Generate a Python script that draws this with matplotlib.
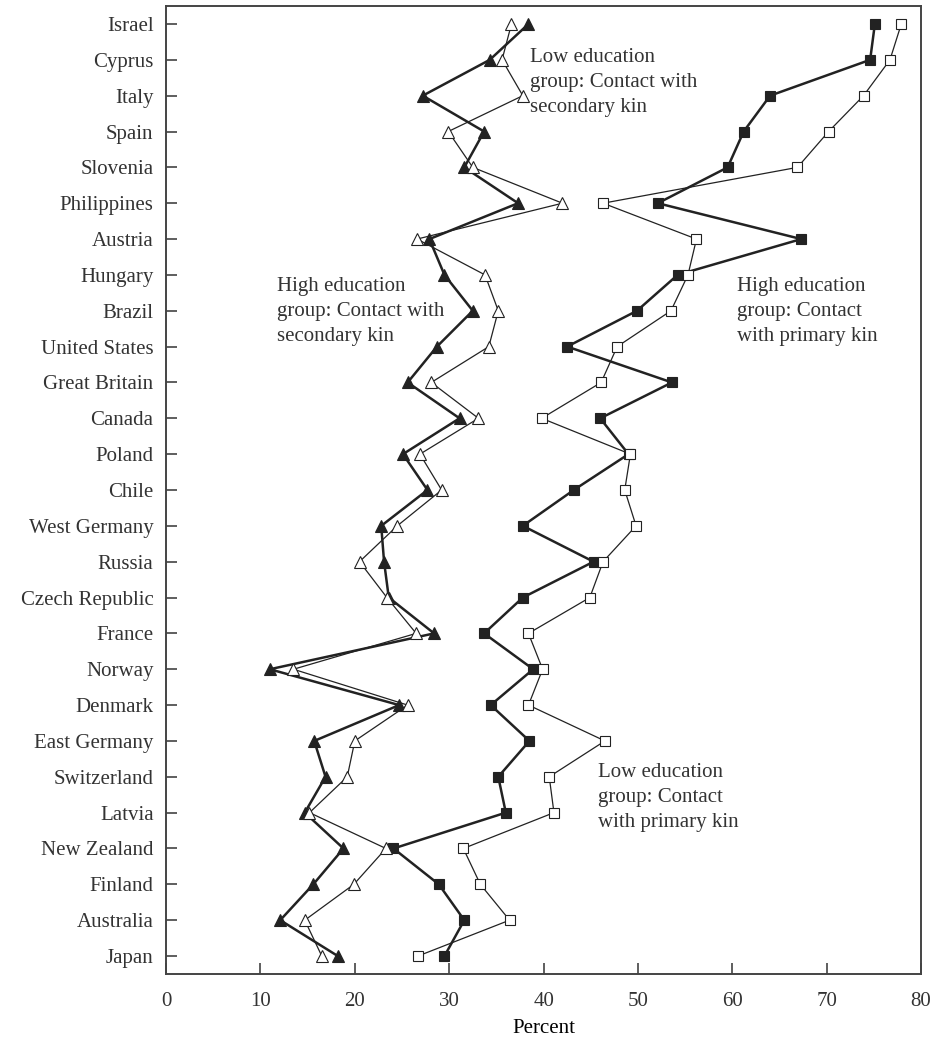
import numpy as np
import matplotlib
matplotlib.use("Agg")
from matplotlib import pyplot as plt

countries = ["Israel", "Cyprus", "Italy", "Spain", "Slovenia", "Philippines",
             "Austria", "Hungary", "Brazil", "United States", "Great Britain",
             "Canada", "Poland", "Chile", "West Germany", "Russia",
             "Czech Republic", "France", "Norway", "Denmark", "East Germany",
             "Switzerland", "Latvia", "New Zealand", "Finland", "Australia",
             "Japan"]

# percent in contact, by education group and kin type
high_secondary = [38.4, 34.3, 27.2, 33.7, 31.6, 37.3, 27.9, 29.5, 32.5, 28.7,
                  25.6, 31.1, 25.1, 27.7, 22.8, 23.1, 23.6, 28.4, 11.0, 24.7,
                  15.7, 16.9, 14.7, 18.8, 15.6, 12.1, 18.2]
low_secondary = [36.6, 35.6, 37.8, 29.9, 32.5, 42.0, 26.6, 33.8, 35.2, 34.2,
                 28.1, 33.1, 26.9, 29.2, 24.5, 20.5, 23.4, 26.5, 13.5, 25.6,
                 20.0, 19.2, 15.2, 23.3, 19.9, 14.7, 16.5]
high_primary = [75.1, 74.6, 64.0, 61.2, 59.5, 52.1, 67.3, 54.2, 49.9, 42.5,
                53.6, 46.0, 49.0, 43.2, 37.8, 45.3, 37.8, 33.7, 38.9, 34.4,
                38.5, 35.2, 36.0, 24.1, 28.9, 31.6, 29.5]
low_primary = [77.9, 76.7, 73.9, 70.2, 66.9, 46.3, 56.2, 55.3, 53.5, 47.8,
               46.1, 39.8, 49.2, 48.6, 49.8, 46.3, 44.9, 38.4, 39.9, 38.4,
               46.5, 40.6, 41.1, 31.5, 33.3, 36.4, 26.7]

ink = "#222222"
plt.rcParams["font.family"] = ["Liberation Serif", "DejaVu Serif"]
plt.rcParams["font.size"] = 15
plt.rcParams["text.color"] = "#333333"

fig = plt.figure(figsize=(9.38, 10.43), dpi=100)
ax = fig.add_axes([0.177, 0.0662, 0.805, 0.928])

y = np.arange(len(countries))

ax.plot(low_secondary, y, color=ink, lw=0.9, marker="^", ms=8.5,
        mfc="white", mec=ink, mew=0.8, zorder=3)
ax.plot(high_secondary, y, color=ink, lw=1.8, marker="^", ms=8.5,
        mfc=ink, mec=ink, mew=0.8, zorder=2)
ax.plot(high_primary, y, color=ink, lw=1.8, marker="s", ms=7.3,
        mfc=ink, mec=ink, mew=0.8, zorder=2)
ax.plot(low_primary, y, color=ink, lw=0.9, marker="s", ms=7.3,
        mfc="white", mec=ink, mew=0.8, zorder=3)

ax.set_xlim(0, 80)
ax.set_ylim(len(countries) - 0.5, -0.5)
ax.set_yticks(y)
ax.set_yticklabels(countries)
ax.set_xticks(np.arange(0, 81, 10))
ax.set_xlabel("Percent", labelpad=6)

ax.tick_params(direction="in", length=8, width=1.1, color="#333333",
               labelcolor="#333333")
ax.tick_params(axis="x", pad=13)
ax.tick_params(axis="y", pad=9)
for s in ax.spines.values():
    s.set_color("#444444")
    s.set_linewidth(1.4)

lab = dict(fontsize=15, va="top", ha="left", linespacing=1.42, color="#333333")
ax.text(38.6, 0.68, "Low education\ngroup: Contact with\nsecondary kin", **lab)
ax.text(11.8, 7.06, "High education\ngroup: Contact with\nsecondary kin", **lab)
ax.text(60.5, 7.06, "High education\ngroup: Contact\nwith primary kin", **lab)
ax.text(45.8, 20.61, "Low education\ngroup: Contact\nwith primary kin", **lab)

fig.savefig("out.png", dpi=100)
